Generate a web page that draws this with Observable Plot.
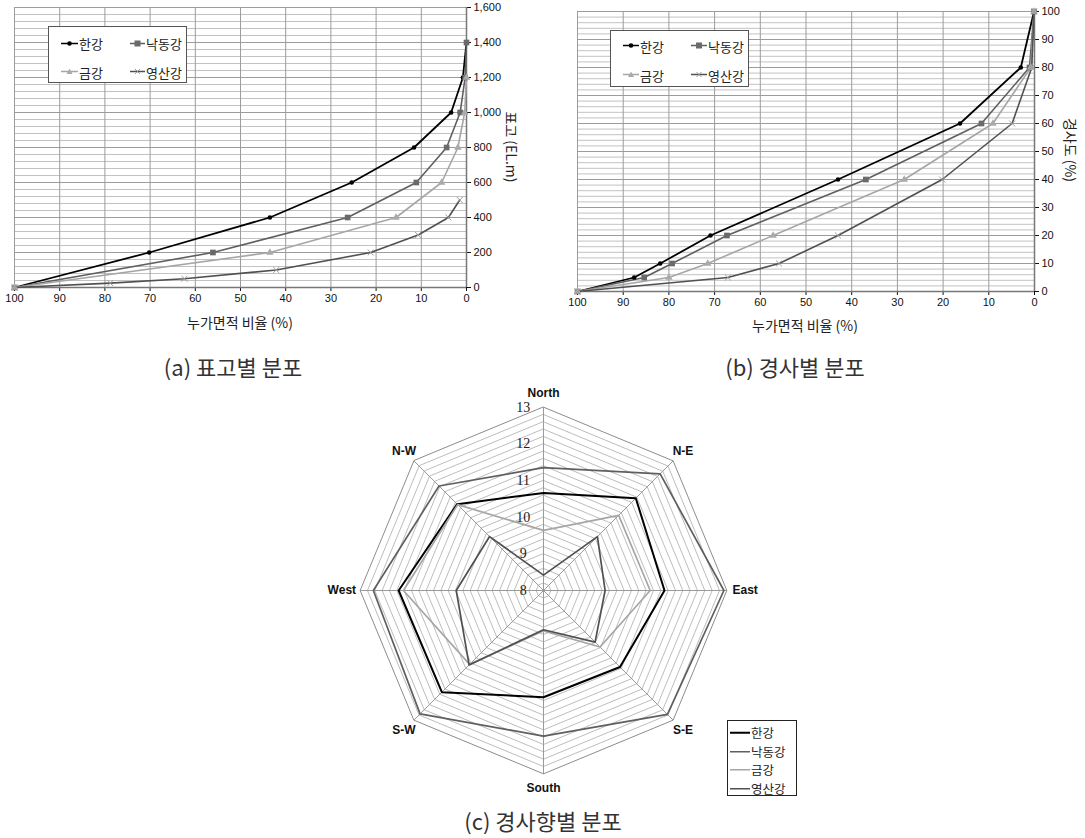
<!DOCTYPE html>
<html><head><meta charset="utf-8">
<script src="https://cdn.jsdelivr.net/npm/d3@7"></script>
<script src="https://cdn.jsdelivr.net/npm/@observablehq/plot@0.6"></script>
<style>
body{margin:0;background:#fff;}
#root{position:relative;width:1085px;height:838px;overflow:hidden;background:#fff;font-family:"Noto Sans CJK KR","Noto Sans",sans-serif;color:#222;}
#root > svg{position:absolute;}
.lbl{position:absolute;white-space:nowrap;transform:translate(-50%,-50%);}
.box{position:absolute;background:#fff;border:1px solid #555;box-sizing:border-box;}
.item{position:absolute;display:flex;align-items:center;font-size:13px;line-height:1;transform:translateY(-50%);white-space:nowrap;}
.item svg{display:block;margin-right:1px;}
</style></head><body><div id="root"></div>
<script>
// ---------- data ----------
const rivers = ["한강", "낙동강", "금강", "영산강"];
const riverColors = ["#000000", "#5f5f5f", "#a6a6a6", "#505050"];

// (a) 표고별 분포 : cumulative area ratio (%) vs elevation (EL.m)
const elevHanArea   = [100, 70.2, 43.5, 25.4, 11.6, 3.4, 0.8, 0];
const elevHanEl     = [0, 200, 400, 600, 800, 1000, 1200, 1400];
const elevNakArea   = [100, 56.1, 26.3, 11.1, 4.4, 1.4, 0.3, 0];
const elevNakEl     = [0, 200, 400, 600, 800, 1000, 1200, 1400];
const elevGeumArea  = [100, 43.5, 15.6, 5.5, 1.9, 0.4, 0];
const elevGeumEl    = [0, 200, 400, 600, 800, 1000, 1200];
const elevYeongArea = [100, 78.8, 62.4, 42.1, 21.2, 10.7, 4.0, 1.5];
const elevYeongEl   = [0, 25, 50, 100, 200, 300, 400, 500];
const elevTicks = [0, 200, 400, 600, 800, 1000, 1200, 1400, 1600];
const areaTicks = [0, 10, 20, 30, 40, 50, 60, 70, 80, 90, 100];

// (b) 경사별 분포 : cumulative area ratio (%) vs slope (%)
const slopeLevels    = [0, 5, 10, 20, 40, 60, 80, 100];
const slopeHanArea   = [100, 87.6, 81.9, 70.9, 43.0, 16.3, 3.0, 0.1];
const slopeNakArea   = [100, 85.4, 79.3, 67.3, 36.9, 11.6, 1.1, 0.1];
const slopeGeumArea  = [100, 80.0, 71.5, 57.2, 28.5, 9.1, 0.8, 0.1];
const slopeYeongArea = [100, 67.1, 55.9, 43.0, 20.2, 4.9, 0.6, 0.1];
const slopeTicks = [0, 10, 20, 30, 40, 50, 60, 70, 80, 90, 100];

// (c) 경사향별 분포
const directions = ["North", "N-E", "East", "S-E", "South", "S-W", "West", "N-W"];
const aspHan   = [10.66, 11.56, 11.30, 10.95, 10.91, 11.92, 11.95, 11.33];
const aspNak   = [11.35, 12.50, 12.92, 12.78, 11.97, 12.76, 12.64, 12.03];
const aspGeum  = [9.64, 10.90, 10.91, 10.18, 9.10, 10.85, 11.82, 11.31];
const aspYeong = [8.42, 10.08, 9.68, 9.99, 9.07, 10.87, 10.38, 10.08];
const radialTicks = [8, 9, 10, 11, 12, 13];

// captions / titles
const captionA = "(a) 표고별 분포";
const captionB = "(b) 경사별 분포";
const captionC = "(c) 경사향별 분포";
const xTitle = "누가면적 비율 (%)";
const yTitleA = "표고 (EL.m)";
const yTitleB = "경사도 (%)";

// ---------- helpers ----------
const root = document.getElementById("root");
const rows = (xs, ys, name) => xs.map((x, i) => ({x, y: ys[i], name}));
function place(el, left, top) { el.style.left = left + "px"; el.style.top = top + "px"; root.appendChild(el); }
function label(text, x, y, css) {
  const d = document.createElement("div"); d.className = "lbl"; d.textContent = text;
  d.style.left = x + "px"; d.style.top = y + "px"; Object.assign(d.style, css || {}); root.appendChild(d);
}
function swatch(i, w, withMarker) {
  const c = riverColors[i], m = w / 2;
  let mk = "";
  if (withMarker) {
    if (i === 0) mk = `<circle cx="${m}" cy="6" r="2.3" fill="${c}"/>`;
    if (i === 1) mk = `<rect x="${m-3}" y="3" width="6" height="6" fill="#6a6a6a"/>`;
    if (i === 2) mk = `<path d="M${m},3L${m+3},8.5L${m-3},8.5Z" fill="#aaaaaa"/>`;
    if (i === 3) mk = `<path d="M${m-2.5},3.5L${m+2.5},8.5M${m+2.5},3.5L${m-2.5},8.5" stroke="#999" stroke-width="1"/>`;
  }
  const sw = withMarker ? 1.5 : (i === 0 ? 2 : 1.5);
  return `<svg width="${w}" height="12"><line x1="0" x2="${w}" y1="6" y2="6" stroke="${c}" stroke-width="${sw}"/>${mk}</svg>`;
}
function legendBox(left, top, w, h, items, fontSize, border) {
  const b = document.createElement("div"); b.className = "box";
  b.style.width = w + "px"; b.style.height = h + "px";
  if (border) b.style.borderColor = border;
  for (const it of items) {
    const d = document.createElement("div"); d.className = "item";
    d.style.left = it.x + "px"; d.style.top = it.y + "px"; d.style.fontSize = fontSize + "px";
    d.innerHTML = swatch(it.i, it.w, it.marker) + `<span>${rivers[it.i]}</span>`;
    b.appendChild(d);
  }
  place(b, left, top);
}

function curveMarks(series) {
  const marks = [];
  series.forEach((s, i) => {
    marks.push(Plot.line(s, {x: "x", y: "y", stroke: riverColors[i], strokeWidth: i === 0 ? 1.8 : 1.6}));
  });
  series.forEach((s, i) => {
    if (i === 0) marks.push(Plot.dot(s, {x: "x", y: "y", r: 2.3, fill: riverColors[0], symbol: "circle"}));
    if (i === 1) marks.push(Plot.dot(s, {x: "x", y: "y", r: 3.2, fill: "#6a6a6a", symbol: "square"}));
    if (i === 2) marks.push(Plot.dot(s, {x: "x", y: "y", r: 2.8, fill: "#aaaaaa", symbol: "triangle"}));
    if (i === 3) marks.push(Plot.dot(s, {x: "x", y: "y", r: 2.8, stroke: "#9a9a9a", strokeWidth: 1, symbol: "times"}));
  });
  return marks;
}
const axisStyle = {fontFamily: "'Liberation Sans', Arial, sans-serif", fontSize: "11px", color: "#111", background: "transparent", overflow: "visible"};

// ---------- (a) ----------
const seriesA = [
  rows(elevHanArea, elevHanEl, rivers[0]),
  rows(elevNakArea, elevNakEl, rivers[1]),
  rows(elevGeumArea, elevGeumEl, rivers[2]),
  rows(elevYeongArea, elevYeongEl, rivers[3])
];
const plotA = Plot.plot({
  width: 540, height: 340,
  marginLeft: 14, marginRight: 74, marginTop: 7, marginBottom: 53,
  style: axisStyle,
  x: {domain: [100, 0], ticks: areaTicks, tickSize: 4, tickPadding: 3, label: null},
  y: {domain: [0, 1600], axis: "right", ticks: elevTicks, tickFormat: d3.format(","), tickSize: 4, tickPadding: 3, label: null},
  marks: [
    Plot.ruleY(d3.range(0, 1601, 40), {stroke: "#c2c2c2", strokeWidth: 1}),
    Plot.ruleY(elevTicks, {stroke: "#9c9c9c", strokeWidth: 1}),
    Plot.ruleX(areaTicks, {stroke: "#9c9c9c", strokeWidth: 1}),
    Plot.ruleX([0], {stroke: "#777", strokeWidth: 1.5}),
    Plot.ruleY([0], {stroke: "#777", strokeWidth: 1.5}),
    ...curveMarks(seriesA)
  ]
});
place(plotA, 0, 0);

// ---------- (b) ----------
const seriesB = [
  rows(slopeHanArea, slopeLevels, rivers[0]),
  rows(slopeNakArea, slopeLevels, rivers[1]),
  rows(slopeGeumArea, slopeLevels, rivers[2]),
  rows(slopeYeongArea, slopeLevels, rivers[3])
];
const plotB = Plot.plot({
  width: 545, height: 340,
  marginLeft: 37, marginRight: 51, marginTop: 11, marginBottom: 49,
  style: axisStyle,
  x: {domain: [100, 0], ticks: slopeTicks, tickSize: 4, tickPadding: 3, label: null},
  y: {domain: [0, 100], axis: "right", ticks: slopeTicks, tickSize: 4, tickPadding: 3, label: null},
  marks: [
    Plot.ruleY(d3.range(0, 101, 2), {stroke: "#c2c2c2", strokeWidth: 1}),
    Plot.ruleY(slopeTicks, {stroke: "#9c9c9c", strokeWidth: 1}),
    Plot.ruleX(slopeTicks, {stroke: "#9c9c9c", strokeWidth: 1}),
    Plot.ruleX([0], {stroke: "#777", strokeWidth: 1.5}),
    Plot.ruleY([0], {stroke: "#777", strokeWidth: 1.5}),
    ...curveMarks(seriesB)
  ]
});
place(plotB, 540, 0);

// ---------- (c) radar ----------
const pxPerUnit = 36.667, base = 8, cx = 543.3, cy = 590, RW = 480, RH = 440;
const ang = i => i * Math.PI / 4;
const polar = (v, i) => ({px: (v - base) * Math.sin(ang(i)), py: (v - base) * Math.cos(ang(i))});
const ringLevels = d3.range(8.2, 13.001, 0.2).map(v => +v.toFixed(1));
const ringPts = ringLevels.flatMap(v => directions.map((d, i) => ({ring: v, ...polar(v, i)})));
const spokes = directions.map((d, i) => ({d, ...polar(13, i)}));
const polys = [aspHan, aspNak, aspGeum, aspYeong].map((vals, k) => vals.map((v, i) => ({name: rivers[k], ...polar(v, i)})));
const dirLabels = directions.map((d, i) => ({d, ...polar(base + (i % 4 === 2 ? 5.5 : 5.38), i)}));
const tickLabels = radialTicks.map(v => ({t: String(v), px: -0.55, py: v - base}));

const radar = Plot.plot({
  width: RW, height: RH, margin: 0,
  style: {background: "transparent", overflow: "visible"},
  x: {domain: [-RW / 2 / pxPerUnit, RW / 2 / pxPerUnit], axis: null},
  y: {domain: [-RH / 2 / pxPerUnit, RH / 2 / pxPerUnit], axis: null},
  marks: [
    Plot.line(ringPts, {x: "px", y: "py", z: "ring", curve: "linear-closed", stroke: d => d.ring === 13 ? "#8c8c8c" : "#bdbdbd", strokeWidth: 1}),
    Plot.link(spokes, {x1: 0, y1: 0, x2: "px", y2: "py", stroke: "#9a9a9a", strokeWidth: 1}),
    ...polys.map((p, k) => Plot.line(p, {x: "px", y: "py", curve: "linear-closed", stroke: riverColors[k], strokeWidth: k === 0 ? 2 : 1.7})),
    Plot.text(tickLabels, {x: "px", y: "py", text: "t", fontFamily: "'Liberation Serif', 'DejaVu Serif', serif", fontSize: 14, fill: "#222"}),
    Plot.text(dirLabels, {x: "px", y: "py", text: "d", fontFamily: "'Liberation Sans', Arial, sans-serif", fontSize: 12, fontWeight: "bold", fill: "#111"})
  ]
});
place(radar, cx - RW / 2, cy - RH / 2);

// ---------- legends ----------
legendBox(48, 26, 139, 57, [
  {i: 0, x: 12, y: 16, w: 17, marker: true}, {i: 1, x: 81, y: 16, w: 15, marker: true},
  {i: 2, x: 12, y: 44.5, w: 17, marker: true}, {i: 3, x: 81, y: 44.5, w: 15, marker: true}
], 13);
legendBox(610, 30, 139, 57, [
  {i: 0, x: 12, y: 14.5, w: 16, marker: true}, {i: 1, x: 80, y: 14.5, w: 16, marker: true},
  {i: 2, x: 12, y: 43.5, w: 16, marker: true}, {i: 3, x: 80, y: 43.5, w: 16, marker: true}
], 13);
legendBox(727, 720, 70, 76, [
  {i: 0, x: 2, y: 12, w: 20, marker: false}, {i: 1, x: 2, y: 30.5, w: 20, marker: false},
  {i: 2, x: 2, y: 49, w: 20, marker: false}, {i: 3, x: 2, y: 67.5, w: 20, marker: false}
], 12.5, "#222");

// ---------- titles ----------
label(xTitle, 240, 322, {fontSize: "14px"});
label(xTitle, 805, 325, {fontSize: "14px"});
label(yTitleA, 512, 147, {fontSize: "14px", transform: "translate(-50%,-50%) rotate(90deg)"});
label(yTitleB, 1071, 150, {fontSize: "14px", transform: "translate(-50%,-50%) rotate(90deg)"});
label(captionA, 233, 366, {fontSize: "22px", color: "#333"});
label(captionB, 795, 366, {fontSize: "22px", color: "#333"});
label(captionC, 543, 820, {fontSize: "22px", color: "#333"});
</script></body></html>
